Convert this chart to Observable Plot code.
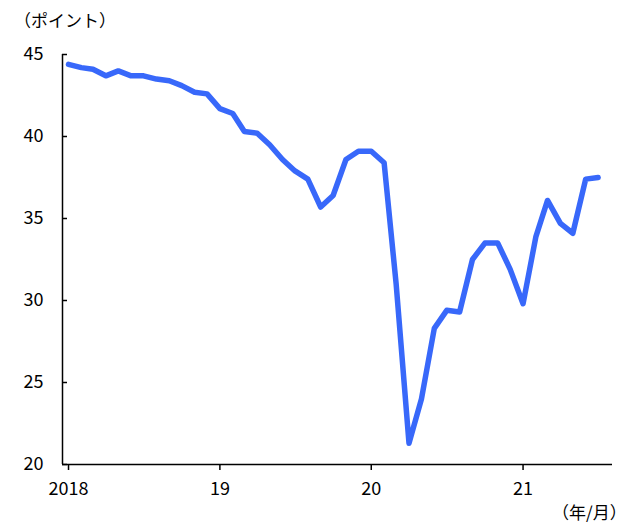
<!DOCTYPE html>
<html>
<head>
<meta charset="utf-8">
<script src="https://cdn.jsdelivr.net/npm/d3@7"></script>
<script src="https://cdn.jsdelivr.net/npm/@observablehq/plot@0.6"></script>
<style>
  html, body { margin: 0; padding: 0; background: #fff; }
  #wrap { position: relative; width: 644px; height: 525px; overflow: hidden; }
  .lbl { position: absolute; font-family: "Noto Sans CJK JP", sans-serif; font-size: 17px; color: #000; white-space: nowrap; line-height: 1; }
</style>
</head>
<body>
<div id="wrap">
  <div class="lbl" id="ylabel" style="left:14px; top:11px;">（ポイント）</div>
  <div class="lbl" id="xlabel" style="left:552px; top:503px;">（年/月）</div>
</div>
<script>
// Monthly index values, Jan 2018 – Jul 2021
const months = [
  "2018-01","2018-02","2018-03","2018-04","2018-05","2018-06","2018-07","2018-08","2018-09","2018-10","2018-11","2018-12",
  "2019-01","2019-02","2019-03","2019-04","2019-05","2019-06","2019-07","2019-08","2019-09","2019-10","2019-11","2019-12",
  "2020-01","2020-02","2020-03","2020-04","2020-05","2020-06","2020-07","2020-08","2020-09","2020-10","2020-11","2020-12",
  "2021-01","2021-02","2021-03","2021-04","2021-05","2021-06","2021-07"
];
const values = [
  44.4, 44.2, 44.1, 43.7, 44.0, 43.7, 43.7, 43.5, 43.4, 43.1, 42.7, 42.6,
  41.7, 41.4, 40.3, 40.2, 39.5, 38.6, 37.9, 37.4, 35.7, 36.4, 38.6, 39.1,
  39.1, 38.4, 31.0, 21.3, 24.0, 28.3, 29.4, 29.3, 32.5, 33.5, 33.5, 31.9,
  29.8, 33.9, 36.1, 34.7, 34.1, 37.4, 37.5
];
const yTicks = [20, 25, 30, 35, 40, 45];
const xTickDates = ["2018-01-01", "2019-01-01", "2020-01-01", "2021-01-01"];
const xTickLabels = ["2018", "19", "20", "21"];

const data = months.map((m, i) => ({date: new Date(m + "-01T00:00:00Z"), value: values[i]}));
const xTicks = xTickDates.map(d => new Date(d + "T00:00:00Z"));
const xStart = new Date("2017-12-17T12:00:00Z");
const xEnd = new Date("2021-08-04T16:00:00Z");

const chart = Plot.plot({
  width: 644,
  height: 525,
  marginLeft: 62,
  marginRight: 32,
  marginTop: 54,
  marginBottom: 61,
  style: {fontFamily: "'Noto Sans CJK JP', 'Liberation Sans', sans-serif", fontSize: "18px", color: "#000", background: "#fff"},
  x: {type: "utc", domain: [xStart, xEnd]},
  y: {domain: [20, 45]},
  marks: [
    Plot.axisX({ticks: xTicks, tickFormat: (d) => xTickLabels[xTicks.findIndex(t => +t === +d)], tickSize: 6, tickPadding: 12, strokeWidth: 1.5, label: null}),
    Plot.axisY({ticks: yTicks, tickSize: -5, tickPadding: 24, strokeWidth: 1.5, label: null}),
    Plot.ruleY([20], {stroke: "#000", strokeWidth: 1.5}),
    Plot.ruleX([xStart], {stroke: "#000", strokeWidth: 1.5}),
    Plot.line(data, {x: "date", y: "value", stroke: "#3868fa", strokeWidth: 5.5, strokeLinejoin: "round", strokeLinecap: "round"})
  ]
});
document.getElementById("wrap").prepend(chart);
chart.style.position = "absolute";
chart.style.left = "0";
chart.style.top = "0";
</script>
</body>
</html>
